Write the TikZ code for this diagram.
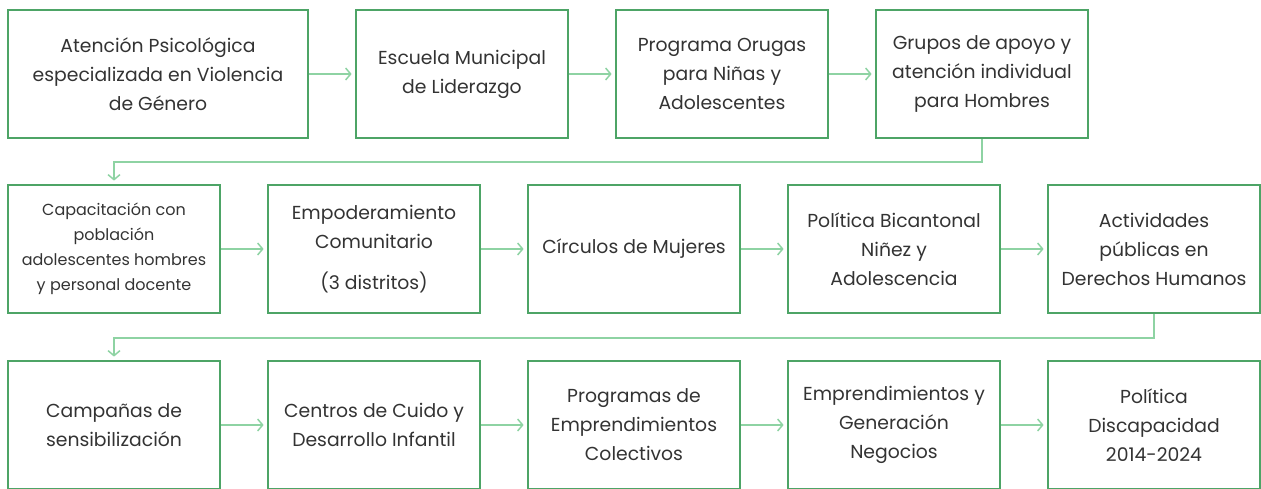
\documentclass[tikz,border=0pt]{standalone}
\usepackage{fontspec}
\setmainfont{Poppins}
\usetikzlibrary{arrows.meta}
\definecolor{boxgreen}{HTML}{4DA466}
\definecolor{linegreen}{HTML}{8ED3A3}
\definecolor{txt}{HTML}{333333}
\tikzset{
  box/.style={draw=boxgreen, line width=2.8pt, text=txt, align=center, inner sep=0pt,
    minimum height=128pt, font=\fontsize{18.8}{29}\selectfont},
  wide/.style={minimum width=300pt},
  std/.style={minimum width=212pt},
  small/.style={font=\fontsize{16}{25}\selectfont},
  conn/.style={draw=linegreen, line width=1.5pt, -{Straight Barb[length=5pt,width=12pt]}}
}
\begin{document}
\begin{tikzpicture}[x=1pt,y=-1pt]
\useasboundingbox (0,0) rectangle (1261,489);
% row 1
\node[box,wide] (b1) at (158,74) {Atención Psicológica\\especializada en Violencia\\de Género};
\node[box,std] (b2) at (462,74) {Escuela Municipal\\de Liderazgo};
\node[box,std] (b3) at (722,74) {Programa Orugas\\para Niñas y\\Adolescentes};
\node[box,std] (b4) at (982,74) {Grupos de apoyo y\\atención individual\\para Hombres};
% row 2
\node[box,std,small] (b5) at (114,249) {Capacitación con\\población\\adolescentes hombres\\y personal docente};
\node[box,std] (b6) at (374,249) {Empoderamiento\\Comunitario\\[12pt](3 distritos)};
\node[box,std] (b7) at (634,249) {Círculos de Mujeres};
\node[box,std] (b8) at (894,249) {Política Bicantonal\\Niñez y\\Adolescencia};
\node[box,std] (b9) at (1154,249) {Actividades\\públicas en\\Derechos Humanos};
% row 3
\node[box,std] (b10) at (114,425) {Campañas de\\sensibilización};
\node[box,std] (b11) at (374,425) {Centros de Cuido y\\Desarrollo Infantil};
\node[box,std] (b12) at (634,425) {Programas de\\Emprendimientos\\Colectivos};
\node[box,std] (b13) at (894,425) {Emprendimientos y\\Generación\\Negocios};
\node[box,std] (b14) at (1154,425) {Política\\Discapacidad\\2014-2024};
% connectors
\coordinate (c1) at (982,162);
\coordinate (c2) at (1154,338);
\draw[conn] (b1.east) -- ([xshift=-3pt]b2.west);
\draw[conn] (b2.east) -- ([xshift=-3pt]b3.west);
\draw[conn] (b3.east) -- ([xshift=-3pt]b4.west);
\draw[conn] (b4.south) -- (c1) -| ([yshift=3pt]b5.north);
\draw[conn] (b5.east) -- ([xshift=-3pt]b6.west);
\draw[conn] (b6.east) -- ([xshift=-3pt]b7.west);
\draw[conn] (b7.east) -- ([xshift=-3pt]b8.west);
\draw[conn] (b8.east) -- ([xshift=-3pt]b9.west);
\draw[conn] (b9.south) -- (c2) -| ([yshift=3pt]b10.north);
\draw[conn] (b10.east) -- ([xshift=-3pt]b11.west);
\draw[conn] (b11.east) -- ([xshift=-3pt]b12.west);
\draw[conn] (b12.east) -- ([xshift=-3pt]b13.west);
\draw[conn] (b13.east) -- ([xshift=-3pt]b14.west);
\end{tikzpicture}
\end{document}
